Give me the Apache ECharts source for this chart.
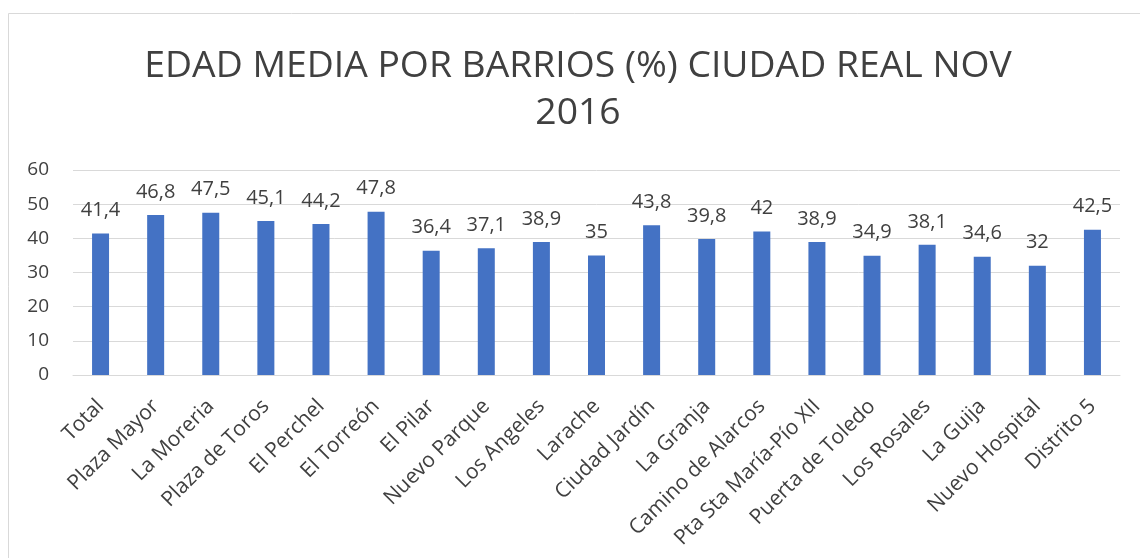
<!DOCTYPE html>
<html><head><meta charset="utf-8">
<script src="https://cdn.jsdelivr.net/npm/echarts@6/dist/echarts.min.js"></script>
<style>html,body{margin:0;padding:0;background:#fff;}#c{width:1140px;height:558px;}</style>
</head><body><div id="c"></div>
<script>
const categories = ["Total","Plaza Mayor","La Moreria","Plaza de Toros","El Perchel","El Torreón","El Pilar","Nuevo Parque","Los Angeles","Larache","Ciudad Jardín","La Granja","Camino de Alarcos","Pta Sta María-Pío XII","Puerta de Toledo","Los Rosales","La Guija","Nuevo Hospital","Distrito 5"];
const values = [41.4,46.8,47.5,45.1,44.2,47.8,36.4,37.1,38.9,35,43.8,39.8,42,38.9,34.9,38.1,34.6,32,42.5];
const yTicks = [0,10,20,30,40,50,60];
const titleText = "EDAD MEDIA POR BARRIOS (%) CIUDAD REAL NOV\n2016";

const chart = echarts.init(document.getElementById('c'), null, {renderer:'canvas'});
const FONT = '"Open Sans", "Noto Sans", sans-serif';
chart.setOption({
  animation:false,
  backgroundColor:'#fff',
  graphic:[{type:'rect',shape:{x:8.5,y:13.5,width:1200,height:700},style:{fill:'none',stroke:'#d9d9d9',lineWidth:1},silent:true}],
  title:{text:titleText,left:573,textAlign:'center',top:38,textStyle:{fontFamily:FONT,fontSize:37.3,fontWeight:'normal',color:'#404040',lineHeight:47,align:'center'}},
  grid:{left:73,right:20,top:170,bottom:183,containLabel:false},
  xAxis:{type:'category',data:categories,
    axisLine:{lineStyle:{color:'#d9d9d9',width:1}},axisTick:{show:false},
    axisLabel:{rotate:45,interval:0,fontFamily:FONT,fontSize:21,color:'#404040',margin:28}},
  yAxis:{type:'value',min:yTicks[0],max:yTicks[yTicks.length-1],interval:10,
    axisLine:{show:false},axisTick:{show:false},
    splitLine:{lineStyle:{color:'#d9d9d9',width:1}},
    axisLabel:{fontFamily:FONT,fontSize:19,color:'#404040',margin:24}},
  series:[{type:'bar',data:values,barWidth:17,itemStyle:{color:'#4472C4'},
    label:{show:true,position:'top',distance:13,fontFamily:FONT,fontSize:20,color:'#404040',
      formatter:p=>String(p.value).replace('.',',')}}]
});
</script></body></html>
